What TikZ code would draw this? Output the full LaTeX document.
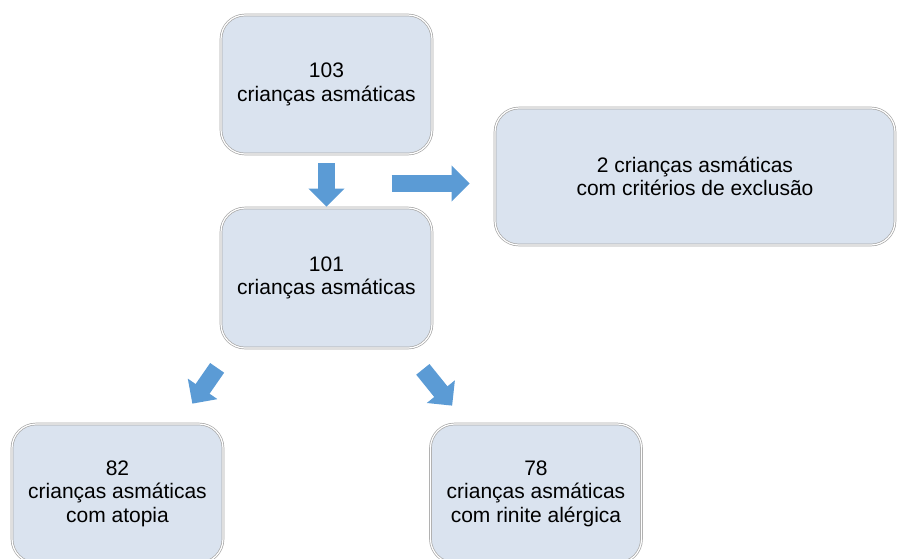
\documentclass[tikz,border=0pt]{standalone}
\usepackage{fontspec}
\setmainfont{Liberation Sans}
\usetikzlibrary{arrows.meta}
\definecolor{boxfill}{RGB}{218,227,239}
\definecolor{arrowblue}{RGB}{91,155,213}
\tikzset{
caixa/.style={draw=black!35,double=white,double distance=1.2pt,line width=0.7pt,fill=boxfill,rounded corners=24pt,minimum width=211pt,minimum height=139pt,align=center,inner sep=0pt,font=\fontsize{21}{23.5}\selectfont},
seta/.style={draw=arrowblue,line width=17pt,-{Triangle[length=18pt,width=35pt]}}
}
\begin{document}
\begin{tikzpicture}[x=1pt,y=-1pt]
\clip(0,0)rectangle(898,558);
\node[caixa](n103) at (326.5,84.5){103\\crianças asmáticas};
\node[caixa,minimum width=400pt,minimum height=137pt](nexcl) at (695,176.5){2 crianças asmáticas\\com critérios de exclusão};
\node[caixa,minimum height=140pt](n101) at (326.5,278){101\\crianças asmáticas};
\node[caixa](n82) at (117.5,493.5){82\\crianças asmáticas\\com atopia};
\node[caixa](n78) at (536,493.5){78\\crianças asmáticas\\com rinite alérgica};
\draw[seta]([yshift=-9pt]n103.south)--([yshift=1pt]n101.north);
\draw[seta]([xshift=-103pt,yshift=-7pt]nexcl.west)--([xshift=-25pt,yshift=-7pt]nexcl.west);
\draw[seta]([xshift=-3.5pt,yshift=-19.5pt]n101.south west)--([xshift=-31pt,yshift=20pt]n82.north east);
\draw[seta]([xshift=-9.5pt,yshift=-21pt]n101.south east)--([xshift=22pt,yshift=18pt]n78.north west);
\end{tikzpicture}
\end{document}
